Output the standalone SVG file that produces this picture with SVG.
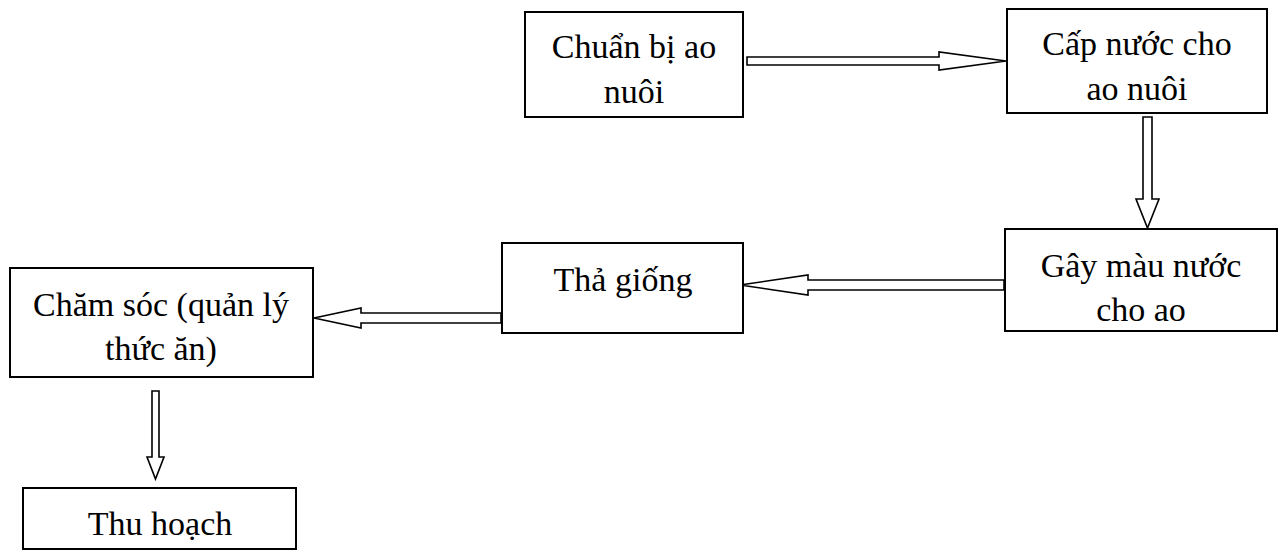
<svg xmlns="http://www.w3.org/2000/svg" width="1283" height="550" viewBox="0 0 1283 550">
<style>
.box{fill:#fff;stroke:#000;stroke-width:2}
.arr{fill:#fff;stroke:#000;stroke-width:1.6;stroke-linejoin:miter}
text{font-family:"Liberation Serif","Times New Roman",serif;font-size:34px;fill:#000;text-anchor:middle}
</style>
<rect width="1283" height="550" fill="#fff"/>
<g id="connectors">
<polygon class="arr" points="747,57 939,57 939,52 1006,61 939,70 939,65 747,65"/>
<polygon class="arr" points="1143,117 1152,117 1152,199 1159,199 1147.5,228 1136,199 1143,199"/>
<polygon class="arr" points="1004,280 808,280 808,275 740,285 808,295 808,290 1004,290"/>
<polygon class="arr" points="501,313 361,313 361,308 314,318 361,328 361,323 501,323"/>
<polygon class="arr" points="152,391 159,391 159,457 164,457 155.5,479 147,457 152,457"/>
</g>
<g id="n1"><rect class="box" x="525" y="12" width="218" height="105"/><text x="634" y="58">Chuẩn bị ao</text><text x="634" y="103">nuôi</text></g>
<g id="n2"><rect class="box" x="1007" y="9" width="260" height="104"/><text x="1137" y="55">Cấp nước cho</text><text x="1137" y="100">ao nuôi</text></g>
<g id="n3"><rect class="box" x="1005" y="229" width="272" height="102"/><text x="1141" y="277">Gây màu nước</text><text x="1141" y="321">cho ao</text></g>
<g id="n4"><rect class="box" x="502" y="243" width="241" height="90"/><text x="623" y="291">Thả giống</text></g>
<g id="n5"><rect class="box" x="10" y="268" width="303" height="109"/><text x="161" y="316">Chăm sóc (quản lý</text><text x="161" y="360">thức ăn)</text></g>
<g id="n6"><rect class="box" x="23" y="488" width="273" height="61"/><text x="160" y="535">Thu hoạch</text></g>
</svg>
